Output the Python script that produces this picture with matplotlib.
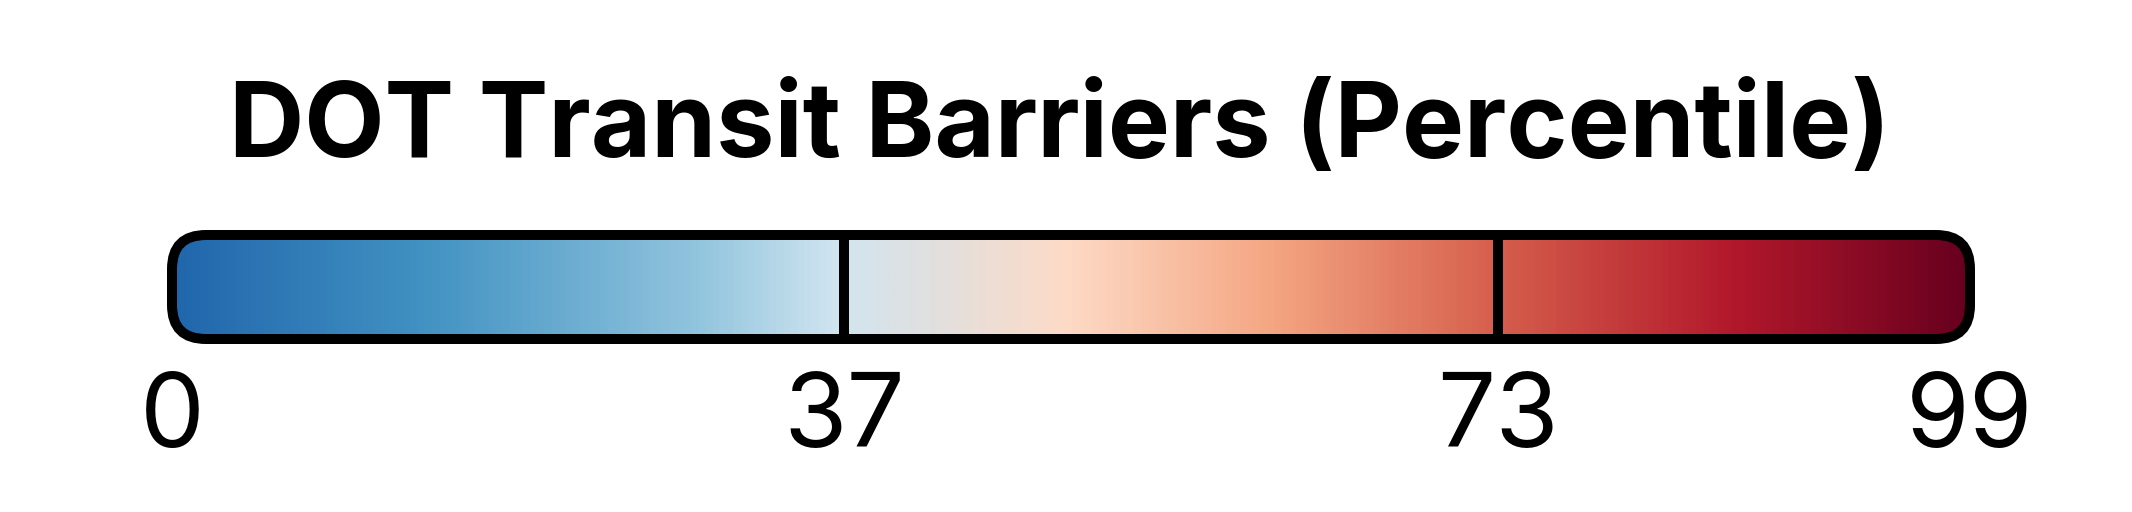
import matplotlib
matplotlib.use('Agg')
import matplotlib.pyplot as plt
import numpy as np
from matplotlib.colors import LinearSegmentedColormap
from matplotlib.patches import FancyBboxPatch

# data
title = 'DOT Transit Barriers (Percentile)'
pct_min, pct_max = 0, 99
breaks = [37, 73]
tick_values = [0, 37, 73, 99]
tick_labels = ['0', '37', '73', '99']

# gradient stops (fraction along the bar, colour)
stop_pos = [0.0, 0.143, 0.293, 0.37, 0.42, 0.497, 0.613, 0.735, 0.87, 1.0]
stop_col = ['#2166ac', '#4393c3', '#92c5de', '#d1e5f0', '#e0e0e0',
            '#fddbc7', '#f4a582', '#d6604d', '#b2182b', '#67001f']

W, H, DPI = 2132, 512, 100
fig = plt.figure(figsize=(W / DPI, H / DPI), dpi=DPI)
fig.patch.set_facecolor('white')

fig.text(1060 / W, 1 - 157 / H, title, ha='center', va='baseline',
         fontsize=75, fontweight='bold', family=['Inter', 'DejaVu Sans'])

# bar axes: border path runs from x=172..1970 px, y=235..339 px
x0, x1, y0, y1 = 172, 1970, 235, 339
ax = fig.add_axes([x0 / W, 1 - y1 / H, (x1 - x0) / W, (y1 - y0) / H])
ax.set_xlim(pct_min, pct_max)
ax.set_ylim(0, 1)
ax.axis('off')

cmap = LinearSegmentedColormap.from_list('barrier', list(zip(stop_pos, stop_col)))
grad = np.linspace(0, 1, 1024).reshape(1, -1)

# keep the rounded corners circular although x and y units differ
units_per_px_x = (pct_max - pct_min) / (x1 - x0)
units_per_px_y = 1 / (y1 - y0)
box = FancyBboxPatch((pct_min, 0), pct_max - pct_min, 1,
                     boxstyle=f'round,pad=0,rounding_size={34 * units_per_px_x}',
                     mutation_aspect=units_per_px_y / units_per_px_x,
                     facecolor='none', edgecolor='black', linewidth=7.2,
                     zorder=3, clip_on=False)
ax.add_patch(box)
im = ax.imshow(grad, extent=(pct_min, pct_max, 0, 1), aspect='auto',
               cmap=cmap, interpolation='bilinear', zorder=1)
im.set_clip_path(box)

ax.vlines(breaks, 0, 1, colors='black', linewidth=7.2, zorder=2)

for v, lab in zip(tick_values, tick_labels):
    ax.text(v, (y1 - 447) / (y1 - y0), lab, ha='center', va='baseline',
            fontsize=74, family=['Inter', 'DejaVu Sans'], clip_on=False)

fig.savefig('out.png', dpi=DPI, facecolor='white')
